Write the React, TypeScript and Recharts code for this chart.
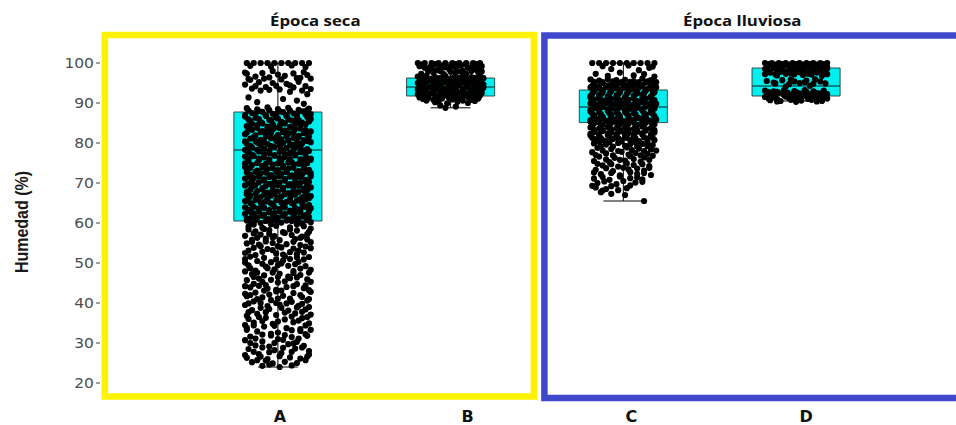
import React from 'react';
import { ComposedChart, Scatter, XAxis, YAxis, ReferenceArea, ReferenceLine, Label } from 'recharts';

// ---------------- data ----------------
const CATEGORIES = ['A', 'B', 'C', 'D'];
const Y_TICKS = [20, 30, 40, 50, 60, 70, 80, 90, 100];
const PANEL_TITLES = ['Época seca', 'Época lluviosa'];

const BOX_MIN = [24, 88.8, 65.5, 90.5];
const BOX_Q1 = [60.5, 91.75, 85.1, 91.75];
const BOX_MEDIAN = [78.25, 94, 89, 94.25];
const BOX_Q3 = [87.75, 96.25, 93.25, 98.75];
const BOX_MAX = [100, 100, 100, 100];

// [jitter offset (hundredths of a category step), humidity %]
const A_POINTS: [number, number][] = [
  [-18,100],[-14,100],[-10,100],[-6,100],[-2,100],[2,100],[6,100],[10,100],[14,100],[18,100],[-16,99.3],[-4,99.1],[8,99.4],[16,99.0],
  [-18,97.3],[-13,96.6],[-9,97.5],[-5,96.4],[0,97.1],[4,96.8],[9,97.4],[13,96.3],[17,97.0],[-16,95.8],
  [-19,94.6],[-15,93.6],[-11,95.2],[-7,94.0],[-3,95.0],[1,93.4],[5,94.8],[9,93.9],[12,95.3],[16,94.2],[19,93.5],[-10,93.1],[7,92.8],
  [-17,96.0],[-8,96.1],[2,95.9],[11,96.2],[19,96.1],[-13,94.2],[-1,94.3],[7,94.4],[14,93.1],[-5,93.3],[-19,97.6],[15,97.7],[-3,98.0],
  [-17,91.4],[11,90.6],[17,92.2],[15,89.8],[-12,90.2],[3,91.0],
  [-18,88.7],[-12,88.4],[-6,88.9],[0,88.5],[6,88.8],[12,88.3],[18,88.6],
  [-17,88.1],[-11,88.0],[-5,88.2],[1,87.9],[7,88.1],[13,88.0],[17,88.2],
  [-15,87.5],[-9,87.8],[-3,87.3],[3,87.7],[9,87.4],[15,87.9],[19,87.2],
  [-19,87.0],[-13,87.1],[-7,86.9],[-1,87.2],[5,87.0],[11,86.9],[16,87.1],
  [-19,86.6],[-13,86.3],[-7,86.8],[-1,86.4],[5,86.7],[11,86.2],[17,86.5],
  [-17,85.9],[-11,86.0],[-5,85.8],[0,86.1],[6,85.9],[12,85.7],[19,86.0],
  [-16,85.5],[-10,85.2],[-4,85.7],[2,85.3],[8,85.6],[14,85.1],[18,85.4],
  [-15,84.8],[-9,84.9],[-3,84.7],[4,84.9],[10,84.8],[16,84.7],
  [-18,84.2],[-12,84.5],[-6,84.1],[1,84.4],[7,84.0],[13,84.6],[-2,83.8],
  [-17,83.7],[-12,83.8],[-6,83.6],[1,83.7],[7,83.9],[13,83.6],
  [-15,83.3],[-9,83.0],[-3,83.4],[4,83.1],[10,83.5],[16,83.2],[19,82.9],
  [-18,82.6],[-10,82.7],[-4,82.5],[3,82.7],[9,82.6],[15,82.5],
  [-19,82.2],[-13,81.9],[-7,82.3],[0,82.0],[6,82.4],[12,81.8],[17,82.1],
  [-14,81.5],[-7,81.6],[-1,81.4],[5,81.7],[12,81.5],[18,81.6],
  [-16,81.1],[-10,80.8],[-4,81.2],[2,80.9],[9,81.3],[15,80.7],[-1,80.5],
  [-19,80.4],[-13,80.5],[-8,80.3],[0,80.4],[6,80.6],[11,80.3],[17,80.5],
  [-18,79.8],[-12,80.1],[-6,79.7],[3,80.0],[8,79.6],[14,79.9],[19,80.2],
  [-16,79.3],[-10,79.4],[-4,79.2],[1,79.3],[7,79.5],[13,79.2],
  [-15,78.9],[-8,78.6],[-2,79.0],[5,78.7],[11,79.1],[17,78.5],[-19,78.3],
  [-18,78.2],[-12,78.3],[-5,78.1],[2,78.4],[9,78.2],[15,78.1],
  [-17,77.6],[-11,77.9],[-5,77.5],[1,77.8],[7,77.4],[13,77.7],[18,78.0],
  [-15,77.1],[-8,77.2],[-2,77.0],[4,77.2],[10,77.1],[16,77.0],
  [-14,76.7],[-8,76.4],[-2,76.8],[4,76.5],[10,76.9],[16,76.3],[-19,76.6],
  [-17,76.0],[-11,76.1],[-5,75.9],[1,76.2],[7,76.0],[13,75.9],[19,76.1],
  [-17,75.4],[-11,75.7],[-5,75.3],[2,75.6],[8,75.2],[14,75.5],[19,75.8],
  [-19,74.9],[-12,75.0],[-7,74.8],[0,74.9],[6,75.1],[12,74.8],[17,75.0],
  [-15,74.5],[-9,74.2],[-3,74.6],[3,74.3],[9,74.7],[15,74.1],[-19,74.0],
  [-16,73.8],[-9,73.9],[-3,73.7],[3,73.9],[9,73.8],[15,73.7],
  [-18,73.4],[-12,73.1],[-6,73.5],[0,73.2],[6,73.6],[12,73.0],[18,73.3],
  [-18,72.7],[-13,72.8],[-7,72.6],[-1,72.8],[5,72.7],[11,72.6],[17,72.8],
  [-16,72.1],[-10,72.4],[-4,72.0],[2,72.3],[8,71.9],[14,72.2],[19,72.5],
  [-17,71.6],[-11,71.7],[-5,71.5],[1,71.7],[7,71.6],[13,71.5],[19,71.7],
  [-14,71.2],[-8,70.9],[-2,71.3],[4,71.0],[10,71.4],[16,70.8],[-19,71.1],
  [-15,70.5],[-8,70.6],[-2,70.4],[4,70.6],[10,70.5],[16,70.4],
  [-17,69.9],[-11,70.2],[-5,69.8],[1,70.1],[7,69.7],[13,70.0],[18,70.3],
  [-19,69.4],[-13,69.5],[-7,69.3],[0,69.5],[6,69.4],[12,69.3],[17,69.5],
  [-15,69.0],[-9,68.7],[-3,69.1],[3,68.8],[9,69.2],[15,68.6],[19,68.9],
  [-16,68.3],[-9,68.4],[-3,68.2],[3,68.4],[9,68.3],[15,68.2],
  [-18,67.7],[-12,68.0],[-6,67.6],[0,67.9],[6,67.5],[12,67.8],[17,68.1],
  [-18,67.2],[-13,67.3],[-8,67.1],[-2,67.3],[4,67.2],[10,67.1],[16,67.3],
  [-16,66.8],[-10,66.5],[-4,66.9],[2,66.6],[8,67.0],[14,66.4],[19,66.7],
  [-17,66.1],[-12,66.2],[-6,66.0],[0,66.2],[7,66.1],[13,66.0],[18,66.2],
  [-19,65.5],[-13,65.8],[-7,65.4],[-1,65.7],[5,65.3],[11,65.6],[16,65.9],
  [-16,65.0],[-10,65.1],[-4,64.9],[2,65.1],[8,65.0],[14,64.9],
  [-15,64.6],[-9,64.3],[-3,64.7],[3,64.4],[9,64.8],[15,64.2],[18,64.5],
  [-19,63.9],[-14,64.0],[-8,63.8],[-2,64.0],[4,63.9],[10,63.8],[16,64.0],
  [-17,63.3],[-11,63.6],[-5,63.2],[1,63.5],[7,63.1],[13,63.4],[19,63.7],
  [-16,62.8],[-11,62.9],[-5,62.7],[1,62.9],[7,62.8],[13,62.7],[18,62.9],
  [-14,62.4],[-8,62.1],[-2,62.5],[4,62.2],[10,62.6],[16,62.0],[-19,62.3],
  [-15,61.7],[-9,61.8],[-3,61.6],[3,61.8],[9,61.7],[15,61.6],
  [-18,61.1],[-12,61.4],[-6,61.0],[0,61.3],[6,60.9],[12,61.2],[18,61.5],
  [-18,60.6],[-13,60.7],[-7,60.5],[-1,60.7],[5,60.6],[11,60.5],[17,60.7],
  [-16,60.3],[-10,60.0],[-4,60.4],[2,60.1],[8,60.5],[14,59.9],[19,60.2],
  [-14,59.6],[-4,59.7],[11,59.6],
  [-17,59.1],[-9,58.8],[-1,59.3],[7,58.9],[15,59.2],[19,58.6],
  [-17,58.4],[-8,58.5],[7,58.4],
  [-13,57.9],[-5,58.2],[3,57.7],[11,58.1],[18,57.8],
  [-14,57.4],[-5,57.3],[4,57.5],[17,57.2],
  [-19,56.8],[-10,57.1],[-2,56.7],[8,57.0],[14,56.6],
  [-12,56.3],[-3,56.4],[13,56.3],
  [-15,55.8],[-7,56.1],[1,55.7],[10,56.0],[17,55.9],
  [-15,55.3],[-7,55.4],[9,55.3],[19,55.2],
  [-18,54.9],[-11,54.6],[-3,55.0],[5,54.7],[13,54.5],
  [-10,54.2],[0,54.2],[16,54.1],
  [-14,53.8],[-6,53.5],[2,53.9],[9,53.6],[19,53.7],
  [-17,53.1],[-3,53.2],[12,53.1],
  [-19,52.5],[-9,52.8],[-1,52.4],[7,52.7],[15,52.6],
  [-13,52.0],[3,52.1],[11,52.2],
  [-16,51.6],[-8,51.3],[4,51.7],[11,51.4],[18,51.5],
  [-19,51.0],[-1,50.9],[7,51.0],[15,50.9],
  [-12,50.5],[-4,50.2],[3,50.6],[12,50.3],[-19,50.1],
  [-9,49.8],[2,49.9],[10,49.7],
  [-17,49.4],[-7,49.1],[0,49.5],[6,49.3],[16,49.2],
  [-16,48.7],[-6,48.7],[13,48.6],
  [-13,48.1],[-2,48.4],[9,48.0],[19,48.3],[-19,47.9],
  [-12,47.6],[-3,47.6],[9,47.5],[18,47.6],
  [-15,47.2],[-8,46.9],[1,47.3],[13,47.0],[6,46.6],
  [-14,46.5],[0,46.5],[11,46.4],
  [-11,46.1],[-4,45.8],[7,46.2],[17,45.9],[-18,45.7],
  [-9,45.3],[4,45.4],[19,45.3],
  [-14,44.8],[0,45.1],[11,44.7],[-7,44.5],[16,44.4],
  [-19,44.2],[-11,44.3],[9,44.2],
  [-16,43.9],[-6,43.6],[5,44.0],[15,43.7],[-1,43.3],
  [-8,43.1],[2,43.1],[18,43.2],
  [-13,42.6],[-1,42.9],[9,42.5],[19,42.8],[-19,42.3],
  [-16,42.0],[-5,42.1],[13,42.0],
  [-18,41.7],[-9,41.4],[3,41.8],[14,41.5],[7,41.1],
  [-12,41.0],[0,41.1],[18,41.0],
  [-14,40.4],[-4,40.7],[8,40.3],[17,40.6],[-10,40.0],
  [-17,39.9],[-1,40.0],[5,39.9],[14,39.8],
  [-19,39.5],[-6,39.2],[1,39.6],[12,39.3],[18,39.0],
  [-10,38.8],[2,38.8],[11,38.9],
  [-15,38.2],[-5,38.5],[6,38.1],[16,38.4],
  [-17,37.7],[-7,37.7],[4,37.6],[14,37.8],
  [-12,37.3],[-1,37.0],[10,37.4],[19,37.1],[-18,36.8],
  [-11,36.5],[8,36.6],[17,36.5],
  [-17,36.0],[-7,36.3],[4,35.9],[14,36.2],
  [-9,35.5],[0,35.4],[12,35.6],
  [-14,35.1],[-3,34.8],[9,35.2],[18,34.9],[-19,34.5],
  [-14,34.4],[-2,34.3],[16,34.4],
  [-18,33.8],[-8,34.1],[5,33.7],[13,33.5],
  [-18,33.3],[8,33.2],[19,33.3],
  [-12,32.9],[0,32.6],[13,33.0],[-4,32.3],
  [-9,32.1],[4,32.0],[16,32.2],
  [-16,31.6],[-4,31.9],[8,31.5],[17,31.8],
  [-13,31.1],[0,31.0],[12,31.1],
  [-19,30.7],[-9,30.4],[3,30.8],[11,30.3],
  [-16,30.0],[-2,30.0],[9,29.9],
  [-13,29.4],[6,29.7],[15,29.3],[-5,29.1],
  [-9,28.9],[3,28.8],[14,28.9],
  [-17,28.5],[-2,28.2],[10,28.6],[18,28.0],
  [-14,27.8],[-5,27.7],[8,27.8],
  [-11,27.2],[2,27.5],[18,27.1],[-19,27.0],
  [-10,26.6],[1,26.7],[17,26.6],
  [-18,26.3],[-6,26.0],[7,26.4],[13,26.1],
  [-12,25.7],[-7,25.6],[16,25.7],
  [-15,25.2],[-3,24.9],[4,25.3],[11,25.0],
  [-9,24.3],[1,24.0],[-5,24.6],[8,24.4],
];

const B_POINTS: [number, number][] = [
  [-19,100],[-15,100],[-11,100],[-7,100],[-3,100],[1,100],[5,100],[9,100],[13,100],[17,100],
  [-17,99.6],[-9,99.7],[-3,99.6],[3,99.7],[9,99.6],[15,99.7],
  [-18,99.2],[-12,99.0],[-6,99.3],[0,99.1],[6,99.4],[12,99.0],[18,99.2],
  [-15,98.8],[-11,98.7],[-4,98.9],[3,98.7],[10,98.8],[16,98.7],
  [-8,98.2],[-1,98.5],[7,98.1],[14,98.4],
  [-13,97.9],[-6,98.0],[0,97.8],[6,97.9],[12,98.0],[18,97.9],
  [-17,97.3],[-10,97.6],[-4,97.2],[3,97.5],[9,97.3],[16,97.6],
  [-19,96.6],[-14,96.8],[-9,96.5],[-3,96.7],[2,96.4],[7,96.8],[12,96.5],[17,96.7],
  [-16,96.2],[-11,96.1],[-6,96.3],[0,96.1],[5,96.2],[9,96.1],[14,96.3],[19,96.2],
  [-17,95.8],[-12,95.6],[-6,95.9],[-1,95.7],[4,96.0],[10,95.6],[15,95.9],[18,95.7],
  [-18,95.4],[-15,95.3],[-9,95.5],[-3,95.3],[2,95.4],[7,95.5],[13,95.3],[17,95.4],
  [-19,95.0],[-14,95.2],[-9,94.9],[-4,95.1],[1,94.8],[7,95.2],[12,94.9],[17,95.1],
  [-16,94.6],[-10,94.5],[-6,94.7],[0,94.5],[5,94.6],[9,94.7],[14,94.5],[19,94.6],
  [-17,94.2],[-12,94.0],[-6,94.3],[-1,94.1],[4,94.4],[10,94.0],[15,94.3],[18,94.1],
  [-18,93.8],[-15,93.7],[-8,93.9],[-2,93.7],[3,93.8],[9,93.9],[15,93.7],[19,93.8],
  [-19,93.4],[-14,93.6],[-9,93.3],[-4,93.5],[1,93.2],[7,93.6],[12,93.3],[17,93.5],
  [-15,93.0],[-10,92.9],[-4,93.1],[2,92.9],[7,93.0],[13,93.1],[17,93.0],
  [-17,92.6],[-12,92.4],[-6,92.7],[-1,92.5],[4,92.8],[10,92.4],[15,92.7],[18,92.5],
  [-19,92.2],[-15,92.1],[-10,92.3],[-5,92.1],[1,92.2],[6,92.3],[11,92.1],[16,92.2],
  [-18,91.8],[-13,92.0],[-8,91.7],[-3,91.9],[2,91.6],[8,92.0],[13,91.7],[17,91.9],
  [-18,91.4],[-13,91.3],[-7,91.5],[-1,91.3],[4,91.4],[10,91.5],[14,91.3],
  [-16,91.0],[-10,90.8],[-5,91.1],[1,90.9],[6,91.2],[12,90.8],[16,91.1],
  [-14,90.6],[-7,90.5],[7,90.6],[14,90.5],
  [-9,90.2],[-2,89.9],[4,90.3],[10,90.0],
  [-6,89.4],[3,89.1],[-3,88.8],
];

const C_POINTS: [number, number][] = [
  [-18,100],[-14,100],[-10,100],[-6,100],[-2,100],[2,100],[6,100],[10,100],[14,100],[18,100],
  [-12,99.2],[3,99.4],[15,98.8],[-7,98.5],[9,98.2],[17,99.1],
  [-16,97.3],[-2,97.6],[6,96.9],[12,97.2],[-9,96.8],[18,96.6],
  [-19,95.9],[-14,95.6],[-9,96.0],[-4,95.7],[1,95.8],[6,95.5],[11,96.1],[16,95.7],
  [-17,95.3],[-12,95.2],[-6,95.4],[-1,95.2],[4,95.3],[9,95.2],[14,95.4],[19,95.2],
  [-17,94.7],[-12,95.0],[-7,94.6],[-2,94.9],[3,94.5],[8,94.8],[13,95.1],[18,94.6],
  [-18,94.3],[-14,94.2],[-9,94.4],[-4,94.2],[1,94.3],[6,94.2],[11,94.4],[16,94.2],
  [-19,93.9],[-15,93.6],[-10,94.0],[-5,93.7],[0,93.8],[5,93.5],[10,94.1],[15,93.7],[19,93.9],
  [-17,93.3],[-12,93.2],[-7,93.4],[-2,93.2],[3,93.3],[8,93.2],[13,93.4],[17,93.2],
  [-17,92.9],[-12,92.6],[-7,93.0],[-2,92.7],[3,92.8],[8,92.5],[13,93.1],[18,92.7],
  [-18,92.3],[-13,92.2],[-8,92.4],[-3,92.2],[2,92.3],[7,92.2],[12,92.4],[17,92.3],
  [-19,91.7],[-14,92.0],[-9,91.6],[-4,91.9],[1,91.5],[6,91.8],[11,92.1],[16,91.6],
  [-19,91.3],[-14,91.2],[-9,91.4],[-4,91.2],[1,91.3],[6,91.2],[11,91.4],[16,91.2],
  [-17,90.9],[-12,90.6],[-7,91.0],[-2,90.7],[3,90.8],[8,90.5],[13,91.1],[18,90.7],
  [-18,90.3],[-13,90.2],[-8,90.4],[-3,90.2],[2,90.3],[7,90.2],[12,90.4],[17,90.3],
  [-19,89.9],[-15,89.6],[-10,90.0],[-5,89.7],[0,89.8],[5,89.5],[10,90.1],[15,89.7],[19,89.8],
  [-17,89.3],[-12,89.2],[-7,89.4],[-2,89.2],[3,89.3],[8,89.2],[13,89.4],[18,89.2],
  [-17,88.7],[-12,89.0],[-7,88.6],[-2,88.9],[3,88.5],[8,88.8],[13,89.1],[18,88.6],
  [-19,88.3],[-14,88.2],[-9,88.4],[-4,88.2],[1,88.3],[6,88.2],[11,88.4],[16,88.2],
  [-19,87.9],[-14,87.6],[-9,88.0],[-4,87.7],[1,87.8],[6,87.5],[11,88.1],[16,87.7],
  [-18,87.3],[-13,87.2],[-8,87.4],[-3,87.2],[2,87.3],[7,87.2],[12,87.4],[17,87.3],
  [-17,86.9],[-12,86.6],[-7,87.0],[-2,86.7],[3,86.8],[8,86.5],[13,87.1],[18,86.7],
  [-17,86.3],[-12,86.2],[-7,86.4],[-2,86.2],[3,86.3],[8,86.2],[13,86.4],[18,86.2],
  [-19,85.7],[-15,86.0],[-10,85.6],[-5,85.9],[0,85.5],[5,85.8],[10,86.1],[15,85.6],[19,85.9],
  [-19,85.3],[-14,85.2],[-9,85.4],[-4,85.2],[1,85.3],[6,85.2],[11,85.4],[16,85.2],
  [-17,84.9],[-12,84.6],[-7,85.0],[-2,84.7],[3,84.8],[8,84.5],[13,85.1],[18,84.7],
  [-18,84.3],[-13,84.2],[-8,84.4],[-3,84.2],[2,84.3],[7,84.2],[12,84.4],[17,84.3],
  [-19,83.9],[-14,83.6],[-9,84.0],[-4,83.7],[1,83.8],[6,83.5],[11,84.1],[16,83.7],
  [-17,83.3],[-12,83.2],[-7,83.4],[-2,83.2],[3,83.3],[8,83.2],[13,83.4],[18,83.2],
  [-17,82.7],[-12,83.0],[-7,82.6],[-2,82.9],[3,82.5],[8,82.8],[13,83.1],[18,82.6],
  [-19,82.3],[-14,82.2],[-9,82.4],[-4,82.2],[1,82.3],[6,82.2],[11,82.4],[16,82.2],
  [-19,81.9],[-14,81.6],[-9,82.0],[-4,81.7],[1,81.8],[6,81.5],[11,82.1],[16,81.7],
  [-18,81.3],[-13,81.2],[-8,81.4],[-3,81.2],[2,81.3],[7,81.2],[12,81.4],[17,81.3],
  [-16,80.9],[-11,80.6],[-6,81.0],[-1,80.7],[4,80.8],[9,80.5],[14,81.1],[18,80.7],
  [-14,80.3],[-8,80.2],[-1,80.4],[7,80.2],[14,80.3],
  [-17,79.9],[-10,79.6],[-3,80.0],[4,79.7],[11,79.8],[17,79.5],
  [-13,79.2],[-6,79.1],[1,79.3],[8,79.1],[14,79.2],
  [-15,78.8],[-7,78.5],[2,78.9],[9,78.6],[16,78.4],
  [-12,78.1],[-3,78.0],[5,78.2],[12,78.0],[19,78.1],
  [-18,77.7],[-10,77.4],[-1,77.8],[7,77.5],[14,77.3],
  [-16,77.0],[-6,76.9],[3,77.1],[10,76.9],
  [-14,76.6],[-5,76.3],[4,76.7],[12,76.4],[17,76.8],
  [-10,75.9],[-2,75.8],[6,76.0],[15,75.8],
  [-17,75.5],[-8,75.2],[1,75.6],[10,75.3],
  [-15,74.8],[-7,74.7],[2,74.9],[11,74.7],
  [-12,74.4],[-3,74.1],[6,74.5],[15,74.2],
  [-10,73.7],[0,73.8],[8,73.6],[15,73.8],
  [-16,73.3],[-6,73.0],[3,73.4],[12,73.1],
  [-17,72.6],[-7,72.5],[4,72.7],[12,72.5],
  [-13,72.2],[-2,71.9],[8,72.3],[16,72.0],
  [-12,71.5],[-2,71.6],[8,71.4],
  [-17,71.1],[-8,70.8],[4,71.2],[11,70.9],
  [-11,70.4],[0,70.5],[11,70.3],
  [-15,70.0],[-4,69.7],[7,70.1],
  [-18,69.3],[-7,69.2],[4,69.4],
  [-16,68.9],[-10,68.5],[2,68.7],
  [-12,68.1],[-3,68.2],
  [-13,67.7],[-7,67.3],[1,67.0],[12,65.5],
];

const D_POINTS: [number, number][] = [
  [-18,100],[-14,100],[-10,100],[-6,100],[-2,100],[2,100],[6,100],[10,100],[14,100],[18,100],
  [-16,99.7],[-12,99.6],[-8,99.7],[-4,99.6],[0,99.7],[4,99.6],[8,99.7],[12,99.6],[16,99.7],
  [-16,99.3],[-11,99.1],[-5,99.4],[0,99.2],[5,99.0],[11,99.3],[16,99.1],
  [-17,98.9],[-13,99.0],[-8,98.9],[-3,99.0],[2,98.9],[8,99.0],[13,98.9],[18,99.0],
  [-18,98.5],[-13,98.7],[-8,98.4],[-2,98.6],[3,98.3],[8,98.7],[13,98.4],[18,98.6],
  [-16,98.0],[-11,98.1],[-5,97.9],[0,98.1],[5,98.0],[10,98.1],[15,97.9],
  [-15,97.6],[-9,97.8],[-3,97.4],[2,97.7],[7,97.3],[12,97.6],[17,97.5],
  [-18,97.2],[-12,97.1],[-6,97.3],[-1,97.2],[9,97.1],[18,97.2],
  [-11,96.9],[4,97.0],[15,96.8],
  [-3,95.9],[11,95.9],
  [-17,95.5],[-8,95.7],[-1,95.4],[6,95.6],[14,95.4],
  [-13,95.1],[5,95.2],
  [-12,94.9],[-4,94.7],[2,95.0],[10,94.8],[17,94.9],
  [-6,94.1],[8,94.3],
  [-18,93.1],[-13,92.9],[-7,93.2],[-1,93.0],[5,93.2],[10,92.9],[16,93.1],
  [-16,92.7],[-11,92.8],[-5,92.6],[0,92.7],[6,92.8],[11,92.6],[16,92.7],
  [-16,92.3],[-10,92.5],[-4,92.2],[2,92.4],[8,92.1],[13,92.4],[18,92.2],
  [-17,91.9],[-13,91.8],[-7,92.0],[-1,91.9],[4,91.8],[10,92.0],[15,91.9],
  [-18,91.5],[-12,91.3],[-6,91.6],[0,91.4],[6,91.6],[11,91.3],[17,91.5],
  [-16,91.1],[-11,91.0],[-4,91.2],[1,91.1],[7,91.0],[13,91.2],[18,91.1],
  [-15,90.7],[-9,90.5],[-3,90.8],[3,90.6],[9,90.8],[15,90.5],
  [-11,90.4],[0,90.3],[12,90.4],
];

const POINTS = [A_POINTS, B_POINTS, C_POINTS, D_POINTS];

// ---------------- chart ----------------
const BOX_HALF = 0.255;
const CAP_HALF = 0.115;
const LABEL_NUDGE = [2, 17, 8, 10]; // px shift of category labels, as in the reference

const scatterData = POINTS.flatMap((pts, i) => pts.map(([dx, y]) => ({ x: i + dx / 100, y })));

const Dot = (p: any) => <circle cx={p.cx} cy={p.cy} r={3.1} fill="#000" />;

const XTick = (props: any) => {
  const { x, y, payload } = props;
  const i = Math.round(payload.value);
  return (
    <text x={x + (LABEL_NUDGE[i] || 0)} y={y} dy="0.71em" textAnchor="middle" fontFamily="DejaVu Sans" fontWeight="bold" fontSize={16} fill="#111">
      {CATEGORIES[i]}
    </text>
  );
};

const YTick = (props: any) => {
  const { x, y, payload } = props;
  return (
    <g transform={`translate(${x},${y})`}>
      <text textAnchor="end" dy="0.36em" fill="#4d4d4d" fontFamily="DejaVu Sans" fontSize={13.5} transform="scale(1.15,1)">
        {payload.value}
      </text>
    </g>
  );
};

const YLabel = (props: any) => {
  const vb = props.viewBox || { x: 0, y: 0, height: 0 };
  return (
    <text
      transform={`translate(${vb.x + 21},${vb.y + vb.height / 2 + 6}) scale(1.2,1) rotate(-90)`}
      textAnchor="middle"
      dominantBaseline="central"
      fontFamily="Liberation Sans"
      fontWeight="bold"
      fontSize={16}
      fill="#1a1a1a"
    >
      Humedad (%)
    </text>
  );
};

export default function App() {
  return (
    <div style={{ position: 'absolute', left: 0, top: 0, width: 956, height: 425, background: '#fff', overflow: 'hidden' }}>
      <ComposedChart width={956} height={425} margin={{ top: 33, right: 0, bottom: 0, left: 0 }}>
        <XAxis
          type="number"
          dataKey="x"
          domain={[-1.03, 3.926]}
          ticks={[0, 1, 2, 3]}
          interval={0}
          allowDataOverflow
          axisLine={false}
          tickLine={false}
          tickMargin={6}
          height={26}
          tick={<XTick />}
        />
        <YAxis
          type="number"
          dataKey="y"
          domain={[16, 107.5]}
          ticks={Y_TICKS}
          interval={0}
          allowDataOverflow
          width={100}
          axisLine={false}
          tickSize={4}
          tickLine={{ stroke: '#444' }}
          tick={<YTick />}
        >
          <Label content={<YLabel />} />
        </YAxis>

        {/* panel frames */}
        <ReferenceArea x1={-1.0017} x2={1.4823} y1={16.6} y2={107} fill="none" fillOpacity={0} stroke="#FFF200" strokeWidth={6.5} ifOverflow="visible" />
        <ReferenceArea x1={1.543} x2={4.05} y1={16.25} y2={106.9} fill="none" fillOpacity={0} stroke="#3F48CC" strokeWidth={6.5} ifOverflow="visible" />

        {/* whiskers */}
        {CATEGORIES.map((c, i) => (
          <ReferenceLine key={`wu${c}`} segment={[{ x: i, y: BOX_Q3[i] }, { x: i, y: BOX_MAX[i] }]} stroke="#000" strokeWidth={1} ifOverflow="visible" />
        ))}
        {CATEGORIES.map((c, i) => (
          <ReferenceLine key={`wl${c}`} segment={[{ x: i, y: BOX_MIN[i] }, { x: i, y: BOX_Q1[i] }]} stroke="#000" strokeWidth={1} ifOverflow="visible" />
        ))}
        {CATEGORIES.map((c, i) => (
          <ReferenceLine key={`cu${c}`} segment={[{ x: i - CAP_HALF, y: BOX_MAX[i] }, { x: i + CAP_HALF, y: BOX_MAX[i] }]} stroke="#000" strokeWidth={1} ifOverflow="visible" />
        ))}
        {CATEGORIES.map((c, i) => (
          <ReferenceLine key={`cl${c}`} segment={[{ x: i - CAP_HALF, y: BOX_MIN[i] }, { x: i + CAP_HALF, y: BOX_MIN[i] }]} stroke="#000" strokeWidth={1} ifOverflow="visible" />
        ))}

        {/* boxes */}
        {CATEGORIES.map((c, i) => (
          <ReferenceArea key={`b${c}`} x1={i - BOX_HALF} x2={i + BOX_HALF} y1={BOX_Q1[i]} y2={BOX_Q3[i]} fill="#00F0F0" fillOpacity={1} stroke="#2b3b3b" strokeWidth={0.9} ifOverflow="visible" />
        ))}
        {CATEGORIES.map((c, i) => (
          <ReferenceLine key={`m${c}`} segment={[{ x: i - BOX_HALF, y: BOX_MEDIAN[i] }, { x: i + BOX_HALF, y: BOX_MEDIAN[i] }]} stroke="#1a1a1a" strokeWidth={1} ifOverflow="visible" />
        ))}

        <Scatter data={scatterData} dataKey="y" shape={Dot} isAnimationActive={false} />
      </ComposedChart>

      <div style={{ position: 'absolute', left: 270, top: 10, fontFamily: '"Open Sans"', fontWeight: 700, fontSize: 15, lineHeight: 'normal', color: '#111', whiteSpace: 'nowrap', transform: 'scaleX(1.12)', transformOrigin: 'left top' }}>
        {PANEL_TITLES[0]}
      </div>
      <div style={{ position: 'absolute', left: 683, top: 10, fontFamily: '"Open Sans"', fontWeight: 700, fontSize: 15, lineHeight: 'normal', color: '#111', whiteSpace: 'nowrap', transform: 'scaleX(1.12)', transformOrigin: 'left top' }}>
        {PANEL_TITLES[1]}
      </div>
    </div>
  );
}
